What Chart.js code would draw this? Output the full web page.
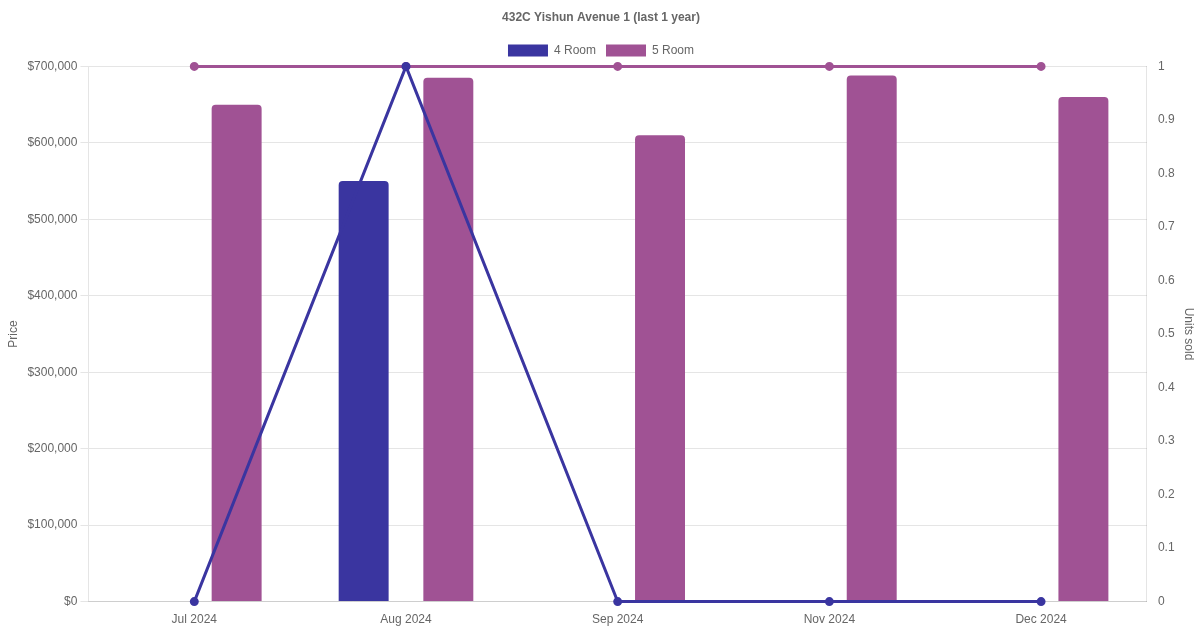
<!DOCTYPE html>
<html>
<head>
<meta charset="utf-8">
<script src="https://cdn.jsdelivr.net/npm/chart.js@4"></script>
<style>
  html, body { margin: 0; padding: 0; background: #fff; }
  #wrap { width: 1200px; height: 630px; }
</style>
</head>
<body>
<div id="wrap"><canvas id="chart"></canvas></div>
<script>
const months = ['Jul 2024', 'Aug 2024', 'Sep 2024', 'Nov 2024', 'Dec 2024'];
const price4Room = [null, 550000, null, null, null];
const price5Room = [650000, 685000, 610000, 688000, 660000];
const units4Room = [0, 1, 0, 0, 0];
const units5Room = [1, 1, 1, 1, 1];

const blue = '#3a35a0';
const purple = '#a05294';

Chart.defaults.font.family = '"Liberation Sans", Arial, sans-serif';
Chart.defaults.font.size = 12;
Chart.defaults.color = '#666';

new Chart(document.getElementById('chart'), {
  data: {
    labels: months,
    datasets: [
      {
        type: 'line',
        label: '4 Room',
        data: units4Room,
        yAxisID: 'y1',
        borderColor: blue,
        backgroundColor: blue,
        borderWidth: 3,
        pointRadius: 3,
        clip: false,
        order: 0,
      },
      {
        type: 'line',
        label: '5 Room',
        data: units5Room,
        yAxisID: 'y1',
        borderColor: purple,
        backgroundColor: purple,
        borderWidth: 3,
        pointRadius: 3,
        clip: false,
        order: 1,
      },
      {
        type: 'bar',
        label: '4 Room',
        data: price4Room,
        yAxisID: 'y',
        backgroundColor: blue,
        borderRadius: 4,
        borderSkipped: 'bottom',
        categoryPercentage: 0.8,
        barPercentage: 0.59,
        order: 2,
      },
      {
        type: 'bar',
        label: '5 Room',
        data: price5Room,
        yAxisID: 'y',
        backgroundColor: purple,
        borderRadius: 4,
        borderSkipped: 'bottom',
        categoryPercentage: 0.8,
        barPercentage: 0.59,
        order: 2,
      },
    ],
  },
  options: {
    responsive: true,
    maintainAspectRatio: false,
    animation: false,
    layout: { padding: { left: 2 } },
    plugins: {
      title: {
        display: true,
        text: '432C Yishun Avenue 1 (last 1 year)',
        font: { size: 12, weight: 'bold' },
        padding: { top: 10, bottom: 10 },
      },
      legend: {
        labels: {
          boxWidth: 40,
          boxHeight: 12,
          filter: (item, chartData) => chartData.datasets[item.datasetIndex].type === 'bar',
        },
      },
    },
    scales: {
      x: {
        offset: true,
        grid: { display: false },
      },
      y: {
        position: 'left',
        min: 0,
        max: 700000,
        ticks: {
          stepSize: 100000,
          callback: (v) => '$' + v.toLocaleString('en-US'),
        },
        title: { display: true, text: 'Price' },
      },
      y1: {
        position: 'right',
        min: 0,
        max: 1,
        ticks: {
          stepSize: 0.1,
          callback: (v) => String(Math.round(v * 10) / 10),
        },
        grid: { display: false },
        title: { display: true, text: 'Units sold' },
      },
    },
  },
});
</script>
</body>
</html>
